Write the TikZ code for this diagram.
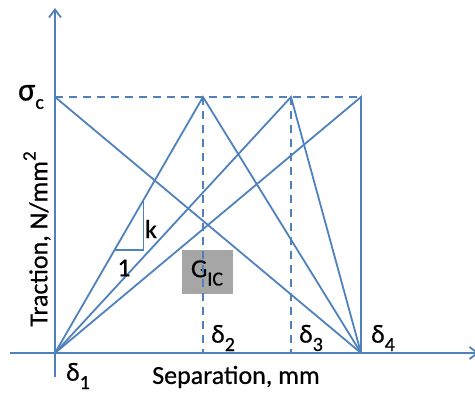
\documentclass[tikz,border=0pt]{standalone}
\usepackage{fontspec}
\setmainfont{Carlito}[UprightFeatures={FakeBold=0.5}]
\usetikzlibrary{arrows.meta}
\definecolor{lineblue}{HTML}{4F81BD}
\definecolor{boxgray}{HTML}{A6A6A6}
\newcommand{\lsub}[1]{\raisebox{-0.32em}{\fontsize{20}{20}\selectfont #1}}
\newcommand{\lsup}[1]{\raisebox{0.45em}{\fontsize{19}{19}\selectfont #1}}
\begin{document}
\begin{tikzpicture}[x=1pt,y=-1pt,
  ln/.style={draw=lineblue,line width=1.8pt},
  dsh/.style={draw=lineblue,line width=1.8pt,dash pattern=on 8pt off 6pt},
  axis/.style={draw=lineblue,line width=1.8pt,-{Straight Barb[length=8pt,width=12pt]}},
  lbl/.style={font=\fontsize{26}{26}\selectfont,inner sep=0pt,text=black}]
\useasboundingbox (0,0) rectangle (475,394);
% key points
\coordinate (O) at (55,353);
\coordinate (S) at (55,97);
\coordinate (P2) at (203,97);
\coordinate (P3) at (291,97);
\coordinate (P4) at (361,97);
\coordinate (D2) at (203,353);
\coordinate (D3) at (291,353);
\coordinate (D4) at (361,353);
\coordinate (xs) at (10,353);
\coordinate (xe) at (479,353);
\coordinate (ys) at (55,377);
\coordinate (ye) at (55,8);
% G_IC box
\node[fill=boxgray,minimum width=51pt,minimum height=44pt,inner sep=0pt] (gic) at (207.5,272) {};
\node[lbl] (giclbl) at (207,273) {G\lsub{IC}};
% axes
\draw[axis] (xs) -- (xe);
\draw[axis] (ys) -- (ye);
% dashed
\draw[dsh] (S) -- (P4);
\draw[dsh] (P2) -- (D2);
\draw[dsh] (P3) -- (D3);
% laws
\draw[ln] (S) -- (D4);
\draw[ln] (O) -- (P2) -- (D4);
\draw[ln] (O) -- (P3) -- (D4);
\draw[ln] (O) -- (P4) -- (D4);
% slope triangle
\coordinate (t1) at (114,250);
\coordinate (t2) at (143.5,250);
\coordinate (t3) at (143.5,199.5);
\draw[ln,line width=1.4pt] (t1) -- (t2) -- (t3);
% labels
\node[lbl] (k) at (151,229) {k};
\node[lbl] (one) at (124,268) {1};
\node[lbl] (sig) at (31,97) {\scalebox{1.25}{σ}\lsub{c}};
\node[lbl] (d1) at (78,376) {δ\lsub{1}};
\node[lbl] (d2) at (223,338) {δ\lsub{2}};
\node[lbl] (d3) at (311,338) {δ\lsub{3}};
\node[lbl] (d4) at (383,338) {δ\lsub{4}};
\node[lbl] (sep) at (236,377) {Separation, mm};
\node[lbl,rotate=90] (trac) at (37,239) {Traction, N/mm\lsup{2}};
\end{tikzpicture}
\end{document}
